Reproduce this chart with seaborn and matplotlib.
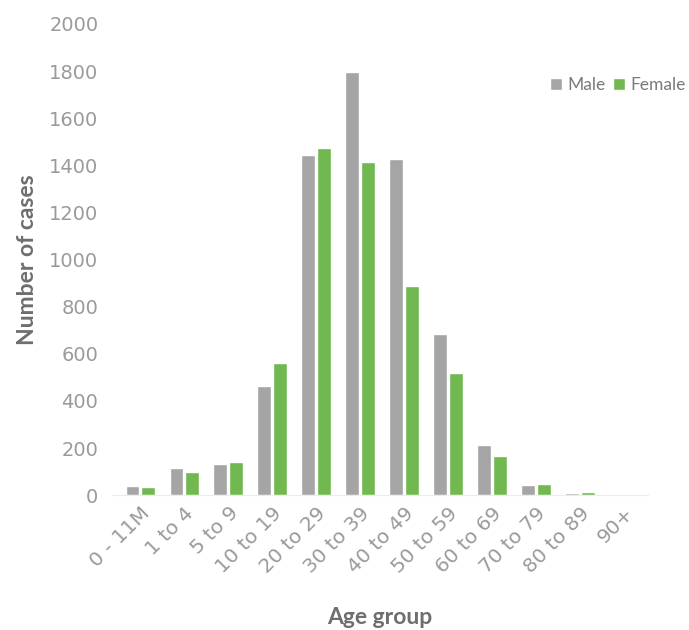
import pandas as pd
import matplotlib
matplotlib.use("Agg")
import matplotlib.pyplot as plt
import seaborn as sns

# Data
age_groups = ['0 - 11M', '1 to 4', '5 to 9', '10 to 19', '20 to 29', '30 to 39',
              '40 to 49', '50 to 59', '60 to 69', '70 to 79', '80 to 89', '90+']
male_cases = [40, 116, 131, 465, 1443, 1797, 1428, 684, 213, 43, 8, 2]
female_cases = [36, 98, 142, 562, 1472, 1412, 889, 518, 167, 48, 12, 1]

# Build a long table for seaborn
df = pd.DataFrame({
    'age_group': age_groups * 2,
    'cases': male_cases + female_cases,
    'sex': ['Male'] * len(age_groups) + ['Female'] * len(age_groups),
})

sns.set_style('white')
plt.rcParams['font.family'] = ['Lato', 'DejaVu Sans']

fig = plt.figure(figsize=(6.89, 6.30), dpi=100)
ax = fig.add_axes([0.163, 0.214, 0.777, 0.748])

sns.barplot(data=df, x='age_group', y='cases', hue='sex', order=age_groups,
            hue_order=['Male', 'Female'], palette=['#a5a5a5', '#6cc93f'],
            width=0.72, gap=0.12, ax=ax)

ax.set_ylim(0, 2000)
ax.set_xlim(-0.64, 11.54)
ax.set_yticks(range(0, 2001, 200))
ax.tick_params(axis='both', length=0, colors='#9a9a9a')
ax.tick_params(axis='y', pad=10)
ax.tick_params(axis='x', pad=6)
for lab in ax.get_yticklabels():
    lab.set_fontfamily('DejaVu Sans')
    lab.set_fontsize(14)
for lab in ax.get_xticklabels():
    lab.set_fontfamily('DejaVu Sans')
    lab.set_fontsize(14.5)
plt.setp(ax.get_xticklabels(), rotation=45, ha='right', rotation_mode='anchor')

for side in ['top', 'right', 'left']:
    ax.spines[side].set_visible(False)
ax.spines['bottom'].set_color('#ececec')

ax.set_xlabel('Age group', fontsize=16.5, fontweight='bold', color='#6e6e6e', labelpad=22)
ax.set_ylabel('Number of cases', fontsize=16.5, fontweight='bold', color='#6e6e6e', labelpad=8)

leg = ax.legend(loc='upper right', bbox_to_anchor=(1.1, 0.92), ncol=2, frameon=False,
                fontsize=12.5, handlelength=0.7, handleheight=0.7, handletextpad=0.3,
                columnspacing=0.4)
for t in leg.get_texts():
    t.set_color('#7a7a7a')

fig.savefig('out.png', dpi=100)
